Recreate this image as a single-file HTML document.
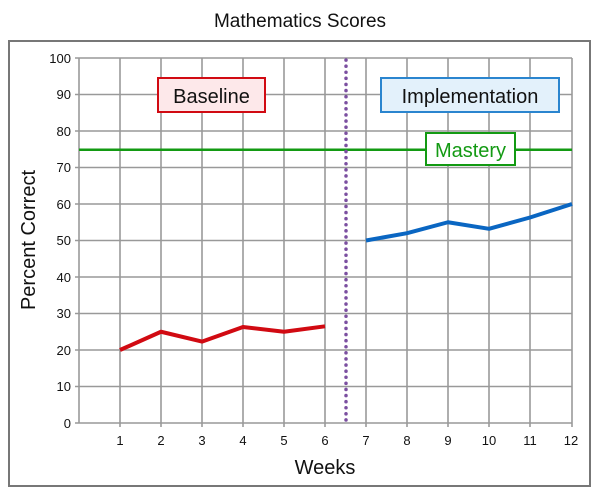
<!DOCTYPE html>
<html><head><style>body{margin:0;background:#fff}</style></head><body>
<svg width="600" height="497" xmlns="http://www.w3.org/2000/svg" font-family="'Liberation Sans',sans-serif">
<rect width="600" height="497" fill="#fff"/>
<text x="300" y="27" font-size="19" text-anchor="middle" fill="#111">Mathematics Scores</text>
<rect x="9" y="41" width="581" height="445" fill="none" stroke="#777" stroke-width="2"/>
<g stroke="#999" stroke-width="1.6">
<line x1="79" y1="58" x2="79" y2="423"/>
<line x1="120" y1="58" x2="120" y2="427"/><line x1="161" y1="58" x2="161" y2="427"/><line x1="202" y1="58" x2="202" y2="427"/><line x1="243" y1="58" x2="243" y2="427"/><line x1="284" y1="58" x2="284" y2="427"/><line x1="325" y1="58" x2="325" y2="427"/><line x1="366" y1="58" x2="366" y2="427"/><line x1="407" y1="58" x2="407" y2="427"/><line x1="448" y1="58" x2="448" y2="427"/><line x1="489" y1="58" x2="489" y2="427"/><line x1="530" y1="58" x2="530" y2="427"/><line x1="572" y1="58" x2="572" y2="427"/>
<line x1="75" y1="58" x2="572" y2="58"/><line x1="75" y1="94.5" x2="572" y2="94.5"/><line x1="75" y1="131" x2="572" y2="131"/><line x1="75" y1="167.5" x2="572" y2="167.5"/><line x1="75" y1="204" x2="572" y2="204"/><line x1="75" y1="240.5" x2="572" y2="240.5"/><line x1="75" y1="277" x2="572" y2="277"/><line x1="75" y1="313.5" x2="572" y2="313.5"/><line x1="75" y1="350" x2="572" y2="350"/><line x1="75" y1="386.5" x2="572" y2="386.5"/><line x1="75" y1="423" x2="572" y2="423"/>
</g>
<g font-size="13" fill="#111" text-anchor="end">
<text x="71" y="63">100</text><text x="71" y="99">90</text><text x="71" y="136">80</text><text x="71" y="172">70</text><text x="71" y="209">60</text><text x="71" y="245">50</text><text x="71" y="282">40</text><text x="71" y="318">30</text><text x="71" y="355">20</text><text x="71" y="391">10</text><text x="71" y="428">0</text>
</g>
<g font-size="13" fill="#111" text-anchor="middle">
<text x="120" y="445">1</text><text x="161" y="445">2</text><text x="202" y="445">3</text><text x="243" y="445">4</text><text x="284" y="445">5</text><text x="325" y="445">6</text><text x="366" y="445">7</text><text x="407" y="445">8</text><text x="448" y="445">9</text><text x="489" y="445">10</text><text x="530" y="445">11</text><text x="571" y="445">12</text>
</g>
<text x="325" y="474" font-size="20" text-anchor="middle" fill="#111">Weeks</text>
<text transform="translate(35,240) rotate(-90)" font-size="20" text-anchor="middle" fill="#111">Percent Correct</text>
<line x1="79" y1="149.75" x2="572" y2="149.75" stroke="#139a13" stroke-width="2.5"/>
<line x1="346" y1="60" x2="346" y2="423" stroke="#7b4fa0" stroke-width="3.5" stroke-dasharray="0.1,6" stroke-linecap="round"/>
<polyline fill="none" stroke="#d10a12" stroke-width="4" stroke-linejoin="round" points="120,350 161,331.75 202,341.6 243,327 284,331.75 325,326.3"/>
<polyline fill="none" stroke="#0a66c2" stroke-width="4" stroke-linejoin="round" points="366,240.5 407,233.2 448,222.25 489,228.8 530,217.5 572,204"/>
<rect x="158" y="78" width="107" height="34" fill="#fde8ea" stroke="#d10a12" stroke-width="2"/>
<text x="211.5" y="103" font-size="20" text-anchor="middle" fill="#111">Baseline</text>
<rect x="381" y="78" width="178" height="34" fill="#e3f1fb" stroke="#2a85cf" stroke-width="2"/>
<text x="470" y="103" font-size="20" text-anchor="middle" fill="#111">Implementation</text>
<rect x="426" y="133" width="89" height="32" fill="#fff" stroke="#139a13" stroke-width="2"/>
<text x="470.5" y="157" font-size="20" text-anchor="middle" fill="#139a13">Mastery</text>
</svg>
</body></html>
